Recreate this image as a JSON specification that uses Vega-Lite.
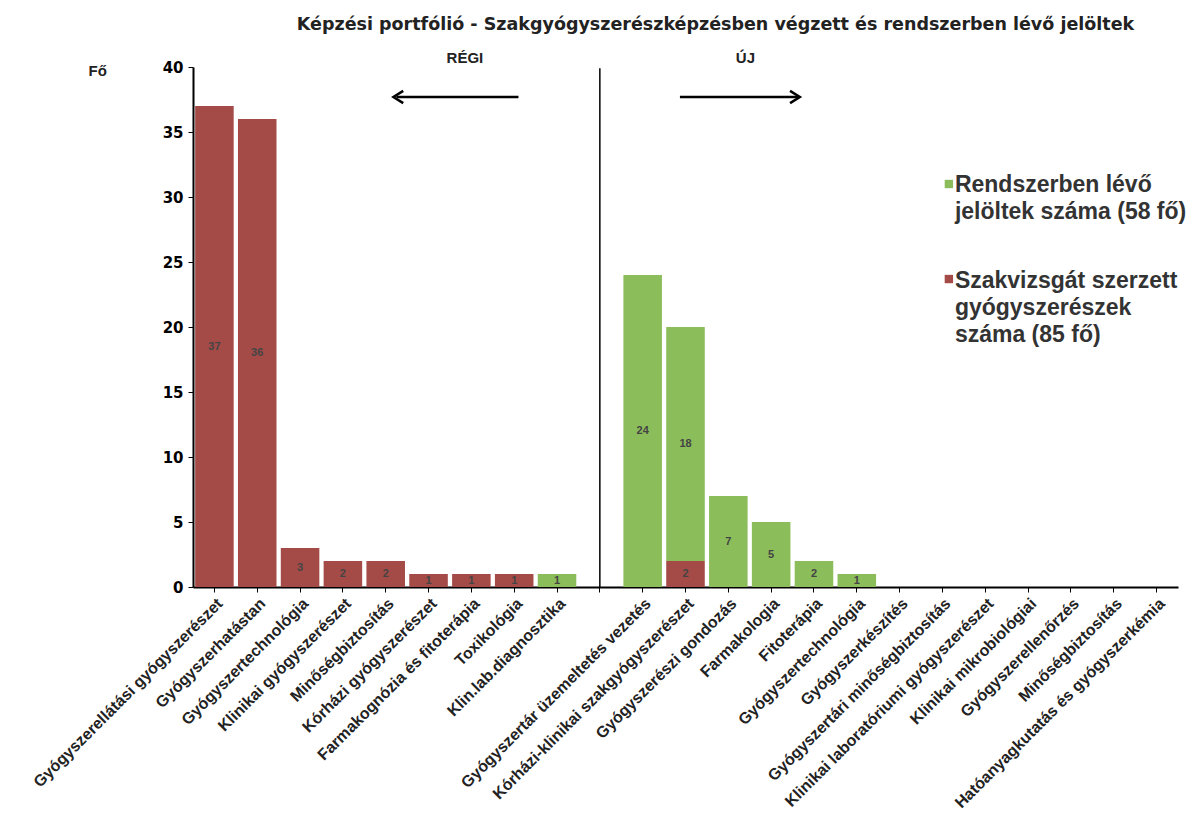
{
  "$schema": "https://vega.github.io/schema/vega-lite/v6.json",
  "width": 985,
  "height": 520,
  "autosize": {"type": "none"},
  "padding": {"left": 193, "top": 67, "right": 19, "bottom": 242},
  "background": "white",
  "config": {"view": {"stroke": null}, "font": "Liberation Sans"},
  "title": {
    "text": "Képzési portfólió - Szakgyógyszerészképzésben végzett és rendszerben lévő jelöltek",
    "fontSize": 17.5,
    "fontWeight": "bold",
    "color": "#222222",
    "anchor": "middle",
    "dx": 30,
    "offset": 17,
    "font": "DejaVu Sans"
  },
  "layer": [
    {
      "data": {
        "values": [
          {"cat": "Gyógyszerellátási gyógyszerészet", "series": "Szakvizsgát szerzett gyógyszerészek száma (85 fő)", "value": 37},
          {"cat": "Gyógyszerhatástan", "series": "Szakvizsgát szerzett gyógyszerészek száma (85 fő)", "value": 36},
          {"cat": "Gyógyszertechnológia", "series": "Szakvizsgát szerzett gyógyszerészek száma (85 fő)", "value": 3},
          {"cat": "Klinikai gyógyszerészet", "series": "Szakvizsgát szerzett gyógyszerészek száma (85 fő)", "value": 2},
          {"cat": "Minőségbiztosítás", "series": "Szakvizsgát szerzett gyógyszerészek száma (85 fő)", "value": 2},
          {"cat": "Kórházi gyógyszerészet", "series": "Szakvizsgát szerzett gyógyszerészek száma (85 fő)", "value": 1},
          {"cat": "Farmakognózia és fitoterápia", "series": "Szakvizsgát szerzett gyógyszerészek száma (85 fő)", "value": 1},
          {"cat": "Toxikológia", "series": "Szakvizsgát szerzett gyógyszerészek száma (85 fő)", "value": 1},
          {"cat": "Klin.lab.diagnosztika", "series": "Rendszerben lévő jelöltek száma (58 fő)", "value": 1},
          {"cat": "Gyógyszertár üzemeltetés vezetés", "series": "Rendszerben lévő jelöltek száma (58 fő)", "value": 24},
          {"cat": "Kórházi-klinikai szakgyógyszerészet", "series": "Szakvizsgát szerzett gyógyszerészek száma (85 fő)", "value": 2},
          {"cat": "Kórházi-klinikai szakgyógyszerészet", "series": "Rendszerben lévő jelöltek száma (58 fő)", "value": 18},
          {"cat": "Gyógyszerészi gondozás", "series": "Rendszerben lévő jelöltek száma (58 fő)", "value": 7},
          {"cat": "Farmakologia", "series": "Rendszerben lévő jelöltek száma (58 fő)", "value": 5},
          {"cat": "Fitoterápia", "series": "Rendszerben lévő jelöltek száma (58 fő)", "value": 2},
          {"cat": "Gyógyszertechnológia ", "series": "Rendszerben lévő jelöltek száma (58 fő)", "value": 1},
          {"cat": "Gyógyszerkészítés", "series": "Rendszerben lévő jelöltek száma (58 fő)", "value": 0},
          {"cat": "Gyógyszertári minőségbiztosítás", "series": "Rendszerben lévő jelöltek száma (58 fő)", "value": 0},
          {"cat": "Klinikai laboratóriumi gyógyszerészet", "series": "Rendszerben lévő jelöltek száma (58 fő)", "value": 0},
          {"cat": "Klinikai mikrobiológiai", "series": "Rendszerben lévő jelöltek száma (58 fő)", "value": 0},
          {"cat": "Gyógyszerellenőrzés", "series": "Rendszerben lévő jelöltek száma (58 fő)", "value": 0},
          {"cat": "Minőségbiztosítás ", "series": "Rendszerben lévő jelöltek száma (58 fő)", "value": 0},
          {"cat": "Hatóanyagkutatás és gyógyszerkémia", "series": "Rendszerben lévő jelöltek száma (58 fő)", "value": 0}
        ]
      },
      "layer": [
        {
          "mark": {"type": "bar"},
          "encoding": {
            "x": {
              "field": "cat",
              "type": "nominal",
              "title": null,
              "scale": {
                "domain": [
                  "Gyógyszerellátási gyógyszerészet", "Gyógyszerhatástan", "Gyógyszertechnológia",
                  "Klinikai gyógyszerészet", "Minőségbiztosítás", "Kórházi gyógyszerészet",
                  "Farmakognózia és fitoterápia", "Toxikológia", "Klin.lab.diagnosztika", " ",
                  "Gyógyszertár üzemeltetés vezetés", "Kórházi-klinikai szakgyógyszerészet",
                  "Gyógyszerészi gondozás", "Farmakologia", "Fitoterápia", "Gyógyszertechnológia ",
                  "Gyógyszerkészítés", "Gyógyszertári minőségbiztosítás",
                  "Klinikai laboratóriumi gyógyszerészet", "Klinikai mikrobiológiai",
                  "Gyógyszerellenőrzés", "Minőségbiztosítás ", "Hatóanyagkutatás és gyógyszerkémia"
                ],
                "paddingInner": 0.1,
                "paddingOuter": 0.05
              },
              "axis": {
                "labelAngle": -45,
                "labelFontSize": 16,
                "labelFontWeight": "bold",
                "labelColor": "#222222",
                "labelFont": "Liberation Sans",
                "labelExpr": "trim(datum.label)",
                "labelLimit": 400,
                "labelPadding": 3,
                "domainColor": "black",
                "domainWidth": 2,
                "tickColor": "black",
                "tickSize": 5
              }
            },
            "y": {
              "field": "value",
              "type": "quantitative",
              "stack": "zero",
              "scale": {"domain": [0, 40]},
              "axis": {
                "title": "Fő",
                "titleAngle": 0,
                "titleAlign": "left",
                "titleBaseline": "middle",
                "titleX": -105,
                "titleY": 3,
                "titleFontSize": 15,
                "titleFontWeight": "bold",
                "titleColor": "#222222",
                "titleFont": "Liberation Sans",
                "values": [0, 5, 10, 15, 20, 25, 30, 35, 40],
                "labelFont": "DejaVu Sans",
                "labelFontSize": 15,
                "labelFontWeight": "bold",
                "labelColor": "black",
                "labelPadding": 5,
                "domainColor": "black",
                "domainWidth": 2,
                "tickColor": "black",
                "tickSize": 5,
                "grid": false
              }
            },
            "color": {
              "field": "series",
              "type": "nominal",
              "scale": {
                "domain": ["Rendszerben lévő jelöltek száma (58 fő)", "Szakvizsgát szerzett gyógyszerészek száma (85 fő)"],
                "range": ["#8cbd5b", "#a44b48"]
              },
              "legend": null
            },
            "order": {"field": "series", "sort": "descending"}
          }
        },
        {
          "transform": [
            {"filter": "datum.value > 0"},
            {"stack": "value", "groupby": ["cat"], "sort": [{"field": "series", "order": "descending"}], "as": ["y0", "y1"]},
            {"fold": ["y0", "y1"], "as": ["k", "yv"]},
            {"aggregate": [{"op": "mean", "field": "yv", "as": "mid"}], "groupby": ["cat", "series", "value"]}
          ],
          "mark": {"type": "text", "fontSize": 11, "fontWeight": "bold", "color": "#444444"},
          "encoding": {
            "x": {"field": "cat", "type": "nominal"},
            "y": {"field": "mid", "type": "quantitative"},
            "text": {"field": "value", "type": "quantitative"}
          }
        }
      ]
    },
    {
      "data": {"values": [{}]},
      "layer": [
        {
          "mark": {"type": "text", "fontSize": 15, "fontWeight": "bold", "color": "#222222", "text": "RÉGI"},
          "encoding": {
            "x": {"datum": 6.35, "type": "quantitative", "scale": {"domain": [0, 23], "nice": false, "zero": false}, "axis": null},
            "y": {"datum": 40.7, "type": "quantitative", "scale": {"domain": [0, 40], "nice": false}, "axis": null}
          }
        },
        {
          "mark": {"type": "text", "fontSize": 15, "fontWeight": "bold", "color": "#222222", "text": "ÚJ"},
          "encoding": {
            "x": {"datum": 12.9, "type": "quantitative"},
            "y": {"datum": 40.7, "type": "quantitative"}
          }
        },
        {
          "mark": {"type": "rule", "color": "black", "strokeWidth": 1.5},
          "encoding": {
            "x": {"datum": 9.5, "type": "quantitative"},
            "y": {"datum": 0, "type": "quantitative"},
            "y2": {"datum": 39.9}
          }
        },
        {
          "mark": {"type": "rule", "color": "black", "strokeWidth": 2.5},
          "encoding": {
            "x": {"datum": 4.75, "type": "quantitative"},
            "x2": {"datum": 7.6},
            "y": {"datum": 37.69, "type": "quantitative"}
          }
        },
        {
          "mark": {"type": "point", "shape": "M1.6,-1L0,0L1.6,1", "filled": false, "color": "black", "strokeWidth": 2.5, "size": 150, "opacity": 1},
          "encoding": {
            "x": {"datum": 4.68, "type": "quantitative"},
            "y": {"datum": 37.69, "type": "quantitative"}
          }
        },
        {
          "mark": {"type": "rule", "color": "black", "strokeWidth": 2.5},
          "encoding": {
            "x": {"datum": 11.37, "type": "quantitative"},
            "x2": {"datum": 14.14},
            "y": {"datum": 37.69, "type": "quantitative"}
          }
        },
        {
          "mark": {"type": "point", "shape": "M-1.6,-1L0,0L-1.6,1", "filled": false, "color": "black", "strokeWidth": 2.5, "size": 150, "opacity": 1},
          "encoding": {
            "x": {"datum": 14.17, "type": "quantitative"},
            "y": {"datum": 37.69, "type": "quantitative"}
          }
        },
        {
          "mark": {"type": "square", "color": "#8cbd5b", "size": 70, "opacity": 1},
          "encoding": {
            "x": {"datum": 17.65, "type": "quantitative"},
            "y": {"datum": 31.0, "type": "quantitative"}
          }
        },
        {
          "mark": {"type": "square", "color": "#a44b48", "size": 70, "opacity": 1},
          "encoding": {
            "x": {"datum": 17.65, "type": "quantitative"},
            "y": {"datum": 23.69, "type": "quantitative"}
          }
        },
        {
          "mark": {"type": "text", "align": "left", "baseline": "alphabetic", "fontSize": 23, "fontWeight": "bold", "color": "#333333", "lineHeight": 27, "text": ["Rendszerben lévő", "jelöltek száma (58 fő)"]},
          "encoding": {
            "x": {"datum": 17.79, "type": "quantitative"},
            "y": {"datum": 30.35, "type": "quantitative"}
          }
        },
        {
          "mark": {"type": "text", "align": "left", "baseline": "alphabetic", "fontSize": 23, "fontWeight": "bold", "color": "#333333", "lineHeight": 27, "text": ["Szakvizsgát szerzett", "gyógyszerészek", "száma (85 fő)"]},
          "encoding": {
            "x": {"datum": 17.79, "type": "quantitative"},
            "y": {"datum": 23.0, "type": "quantitative"}
          }
        }
      ]
    }
  ],
  "resolve": {"scale": {"x": "independent", "y": "independent"}}
}
